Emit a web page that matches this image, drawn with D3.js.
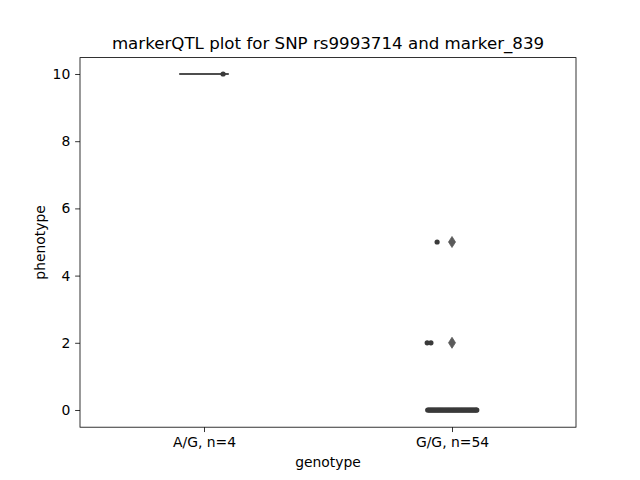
<!DOCTYPE html>
<html><head><meta charset="utf-8">
<script src="https://cdn.jsdelivr.net/npm/d3@7"></script>
<style>body{margin:0;background:#fff}text{font-family:"DejaVu Sans",sans-serif}</style>
</head><body><svg id="c" width="640" height="480"></svg>
<script>
const categories = ["A/G, n=4", "G/G, n=54"];
const yTicks = [0, 2, 4, 6, 8, 10];
// box stats per category: [q1, median, q3, whiskerLow, whiskerHigh]
const boxStats = [[10, 10, 10, 10, 10], [0, 0, 0, 0, 0]];
const fliers = [[], [2, 5]];
// strip points: category index, value, jitter offset (category units)
const stripCat = [0, 1, 1, 1];
const stripVal = [10, 5, 2, 2];
const stripOff = [0.077, -0.06, -0.1, -0.085];
const zeroOffsets = [-0.098,-0.094,-0.09,-0.086,-0.082,-0.078,-0.074,-0.07,-0.066,-0.062,-0.058,-0.054,-0.05,-0.046,-0.042,-0.038,-0.034,-0.03,-0.026,-0.022,-0.018,-0.014,-0.01,-0.006,-0.002,0.002,0.006,0.01,0.014,0.018,0.022,0.026,0.03,0.034,0.038,0.042,0.046,0.05,0.054,0.058,0.062,0.066,0.07,0.074,0.078,0.082,0.086,0.09,0.094,0.098,0.1];

const svg = d3.select("#c");
const L = 80, R = 576, T = 57.6, B = 427.2;
const x = d3.scaleLinear().domain([-0.5, 1.5]).range([L, R]);
const y = d3.scaleLinear().domain([-0.512, 10.488]).range([B, T]);
const boxW = 0.2;

const xAxis = d3.axisBottom(x).tickValues([0, 1]).tickFormat(i => categories[i]).tickSize(4.86).tickPadding(4.86);
const yAxis = d3.axisLeft(y).tickValues(yTicks).tickFormat(d3.format("d")).tickSize(4.86).tickPadding(4.86);

const gx = svg.append("g").attr("transform", `translate(0,${B})`).call(xAxis);
const gy = svg.append("g").attr("transform", `translate(${L},0)`).call(yAxis);
[gx, gy].forEach(g => {
  g.select(".domain").remove();
  g.selectAll("text").attr("font-size", 13.9).attr("fill", "#000").attr("font-family", "DejaVu Sans");
  g.selectAll("line").attr("stroke", "#000").attr("stroke-width", 0.8);
});

// boxes
boxStats.forEach((s, i) => {
  const g = svg.append("g");
  g.append("rect").attr("x", x(i - boxW / 2)).attr("width", x(boxW) - x(0))
    .attr("y", y(s[2])).attr("height", Math.max(0, y(s[0]) - y(s[2])))
    .attr("fill", "#8c8c8c").attr("stroke", "#4d4d4d").attr("stroke-width", 1.5);
  g.append("line").attr("x1", x(i - boxW / 2)).attr("x2", x(i + boxW / 2))
    .attr("y1", y(s[1])).attr("y2", y(s[1])).attr("stroke", "#4d4d4d").attr("stroke-width", 2);
  fliers[i].forEach(v => {
    const cx = x(i), cy = y(v);
    g.append("path").attr("d", `M${cx},${cy - 5.5}L${cx + 3.5},${cy}L${cx},${cy + 5.5}L${cx - 3.5},${cy}Z`)
      .attr("fill", "#5a5a5a").attr("stroke", "#5a5a5a").attr("stroke-width", 0.8);
  });
});

// strip points
const pts = stripCat.map((c, k) => ({c, v: stripVal[k], o: stripOff[k]}))
  .concat(zeroOffsets.map(o => ({c: 1, v: 0, o})));
svg.append("g").selectAll("circle").data(pts).join("circle")
  .attr("cx", d => x(d.c + d.o)).attr("cy", d => y(d.v)).attr("r", 2.6)
  .attr("fill", "#3a3a3a");

// frame
svg.append("rect").attr("x", L).attr("y", T).attr("width", R - L).attr("height", B - T)
  .attr("fill", "none").attr("stroke", "#000").attr("stroke-width", 0.8);

svg.append("text").attr("x", (L + R) / 2).attr("y", 49).attr("text-anchor", "middle")
  .attr("font-size", 16.67).text("markerQTL plot for SNP rs9993714 and marker_839");
svg.append("text").attr("x", (L + R) / 2).attr("y", 467).attr("text-anchor", "middle")
  .attr("font-size", 13.9).text("genotype");
svg.append("text").attr("transform", `translate(45,${(T + B) / 2}) rotate(-90)`).attr("text-anchor", "middle")
  .attr("font-size", 13.9).text("phenotype");
</script></body></html>
